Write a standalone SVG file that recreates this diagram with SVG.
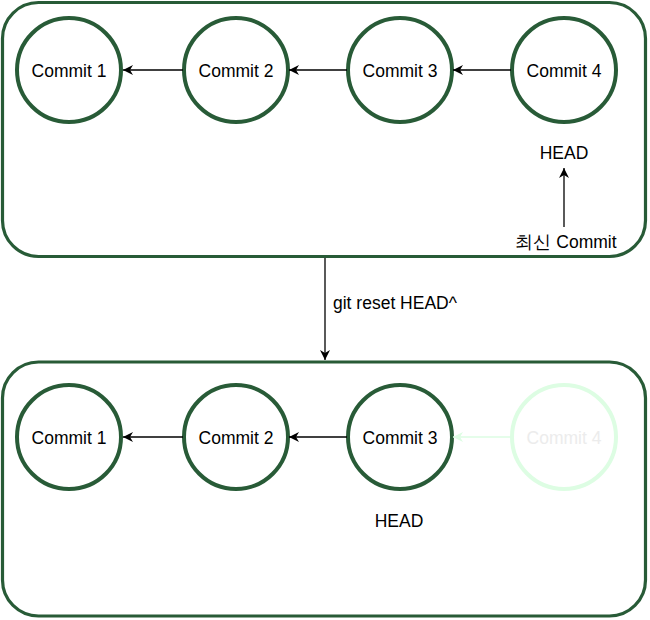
<svg xmlns="http://www.w3.org/2000/svg" width="650" height="620" viewBox="0 0 650 620">
<style>
.box{fill:#ffffff;stroke:#285b37;stroke-width:3.2}
.c{fill:#ffffff;stroke:#285b37;stroke-width:4}
.cf{fill:#ffffff;stroke:#ddfde3;stroke-width:4}
.t{font-family:"Liberation Sans",Arial,sans-serif;font-size:17.5px;fill:#000000;text-anchor:middle}
.tf{fill:#ececec}
.l{stroke:#000000;stroke-width:1.3;fill:none}
.lf{stroke:#ddfde3;stroke-width:1.3;fill:none}
</style>
<defs>
<marker id="ah" viewBox="0 0 10 10" refX="10" refY="5" markerWidth="10" markerHeight="10" markerUnits="userSpaceOnUse" orient="auto">
<path d="M0,0 L10,5 L0,10 L3,5 Z" fill="#000000"/>
</marker>
<marker id="ahf" viewBox="0 0 10 10" refX="10" refY="5" markerWidth="10" markerHeight="10" markerUnits="userSpaceOnUse" orient="auto">
<path d="M0,0 L10,5 L0,10 L3,5 Z" fill="#ddfde3"/>
</marker>
</defs>
<g id="box-top"><rect class="box" x="2.5" y="2.5" width="643" height="254" rx="36" ry="36"/></g>
<g id="box-bottom"><rect class="box" x="2.5" y="362" width="643" height="254" rx="36" ry="36"/></g>
<g id="top-c1"><circle class="c" cx="69" cy="70" r="52"/><text class="t" x="69" y="77">Commit 1</text></g>
<g id="top-c2"><circle class="c" cx="236" cy="70" r="52"/><text class="t" x="236" y="77">Commit 2</text></g>
<g id="top-c3"><circle class="c" cx="400" cy="70" r="52"/><text class="t" x="400" y="77">Commit 3</text></g>
<g id="top-c4"><circle class="c" cx="564" cy="70" r="52"/><text class="t" x="564" y="77">Commit 4</text></g>
<g id="top-head"><text class="t" x="564" y="159">HEAD</text></g>
<g id="top-latest"><text class="t" x="566" y="248">최신 Commit</text></g>
<g id="bot-c1"><circle class="c" cx="69" cy="437" r="52"/><text class="t" x="69" y="444">Commit 1</text></g>
<g id="bot-c2"><circle class="c" cx="236" cy="437" r="52"/><text class="t" x="236" y="444">Commit 2</text></g>
<g id="bot-c3"><circle class="c" cx="400" cy="437" r="52"/><text class="t" x="400" y="444">Commit 3</text></g>
<g id="bot-c4"><circle class="cf" cx="564" cy="437" r="52"/><text class="t tf" x="564" y="444">Commit 4</text></g>
<g id="bot-head"><text class="t" x="399" y="527">HEAD</text></g>
<g id="reset-label"><text class="t" x="333" y="309" style="text-anchor:start">git reset HEAD^</text></g>
<g id="connectors">
<line class="l" x1="183" y1="70" x2="123" y2="70" marker-end="url(#ah)"/>
<line class="l" x1="347" y1="70" x2="289" y2="70" marker-end="url(#ah)"/>
<line class="l" x1="511" y1="70" x2="453" y2="70" marker-end="url(#ah)"/>
<line class="l" x1="564" y1="227" x2="564" y2="168" marker-end="url(#ah)"/>
<line class="l" x1="183" y1="437" x2="123" y2="437" marker-end="url(#ah)"/>
<line class="l" x1="347" y1="437" x2="289" y2="437" marker-end="url(#ah)"/>
<line class="lf" x1="511" y1="437" x2="453" y2="437" marker-end="url(#ahf)"/>
<line class="l" x1="325" y1="258" x2="325" y2="360" marker-end="url(#ah)"/>
</g>
</svg>
